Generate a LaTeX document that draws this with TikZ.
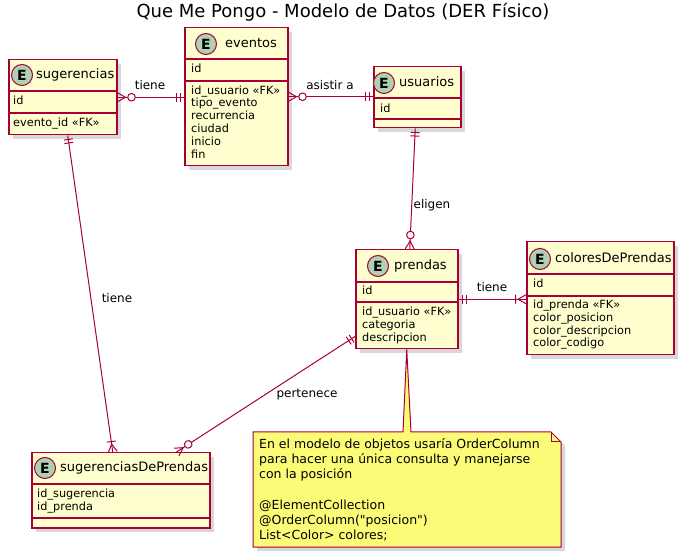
\documentclass[tikz,border=0pt]{standalone}
\usepackage{fontspec}
\setmainfont{DejaVu Sans}
\newfontfamily\notefont{DejaVu Sans}
\usetikzlibrary{positioning,shadows,decorations.markings}

\definecolor{entfill}{HTML}{FEFECE}
\definecolor{erline}{HTML}{A80036}
\definecolor{ecircfill}{HTML}{ADD1B2}
\definecolor{notefill}{HTML}{FBFB77}

% ends of the relations
\newcommand\mkone{\draw[conn] (-4pt,-4.5pt) -- (-4pt,4.5pt) (-7.5pt,-4.5pt) -- (-7.5pt,4.5pt);}
\newcommand\mkzm{\draw[conn] (0pt,4.5pt) -- (-8pt,0pt) -- (0pt,-4.5pt); \draw[conn,fill=white] (-14pt,0pt) circle (3.8pt);}
\newcommand\mkom{\draw[conn] (0pt,4.5pt) -- (-8pt,0pt) -- (0pt,-4.5pt) (-10.5pt,-4.5pt) -- (-10.5pt,4.5pt);}

\tikzset{
	ent/.style={rectangle, draw=erline, fill=entfill, line width=1.5pt, inner sep=0pt, anchor=north west,
		drop shadow={shadow xshift=4pt, shadow yshift=-4pt, fill=black!50, opacity=.3}},
	ecirc/.style={circle, draw=erline, fill=ecircfill, line width=1pt, minimum size=21pt, inner sep=0pt,
		font=\fontsize{14}{14}\selectfont\bfseries},
	etitle/.style={inner sep=0pt, anchor=west, text height=9.5pt, text depth=3pt, font=\fontsize{13}{15}\selectfont},
	field/.style={inner sep=0pt, anchor=west, text height=8pt, text depth=2.5pt, font=\fontsize{11.3}{13}\selectfont},
	sep/.style={draw=erline, line width=1.5pt},
	conn/.style={draw=erline, line width=1pt},
	rel/.style={inner sep=0pt, text height=9pt, text depth=2.5pt, font=\fontsize{12}{14}\selectfont},
	notetext/.style={inner sep=0pt, anchor=west, text height=9.5pt, text depth=3pt, font=\notefont\fontsize{12.5}{15}\selectfont},
	tipend/.style={postaction={decorate,decoration={markings,mark=at position 1 with {#1}}}},
	tipstart/.style={postaction={decorate,decoration={markings,mark=at position 0 with {\begin{scope}[xscale=-1]#1\end{scope}}}}},
}

\begin{document}
\begin{tikzpicture}[x=1pt,y=-1pt]
	\fill[white] (0,0) rectangle (686,553);
	\useasboundingbox (0,0) rectangle (686,553);

	\node[inner sep=0pt, font=\fontsize{18}{20}\selectfont] (title) at (343,12) {Que Me Pongo - Modelo de Datos (DER Físico)};

	% sugerencias
	\node[ent, minimum width=108, minimum height=75] (sug) at (8,59) {};
	\node[ecirc] (sugE) at (22,75) {E};
	\node[etitle] (sugT) at (36,75) {sugerencias};
	\draw[sep] (sug.west |- 0,91) -- (sug.east |- 0,91);
	\node[field] (sugF1) at (13,102) {id};
	\draw[sep] (sug.west |- 0,113) -- (sug.east |- 0,113);
	\node[field] (sugF2) at (13,124) {evento\_id «FK»};

	% eventos
	\node[ent, minimum width=103, minimum height=138] (ev) at (184,27) {};
	\node[ecirc] (evE) at (206,44) {E};
	\node[etitle] (evT) at (225,44) {eventos};
	\draw[sep] (ev.west |- 0,59) -- (ev.east |- 0,59);
	\node[field] (evF0) at (191,70) {id};
	\draw[sep] (ev.west |- 0,81) -- (ev.east |- 0,81);
	\foreach \t [count=\i] in {{id\_usuario «FK»},{tipo\_evento},{recurrencia},{ciudad},{inicio},{fin}}
		\node[field] (evF\i) at (191,78.5+12.8*\i) {\t};

	% usuarios
	\node[ent, minimum width=87, minimum height=61] (us) at (373,66) {};
	\node[ecirc] (usE) at (384,83) {E};
	\node[etitle] (usT) at (399,83) {usuarios};
	\draw[sep] (us.west |- 0,98) -- (us.east |- 0,98);
	\node[field] (usF1) at (380,110) {id};
	\draw[sep] (us.west |- 0,119) -- (us.east |- 0,119);

	% prendas
	\node[ent, minimum width=102, minimum height=99] (pr) at (355,249) {};
	\node[ecirc] (prE) at (378,266) {E};
	\node[etitle] (prT) at (394,266) {prendas};
	\draw[sep] (pr.west |- 0,282) -- (pr.east |- 0,282);
	\node[field] (prF0) at (362,292) {id};
	\draw[sep] (pr.west |- 0,302) -- (pr.east |- 0,302);
	\foreach \t [count=\i] in {{id\_usuario «FK»},{categoria},{descripcion}}
		\node[field] (prF\i) at (362,300+12.8*\i) {\t};

	% coloresDePrendas
	\node[ent, minimum width=147, minimum height=113] (col) at (526,241) {};
	\node[ecirc] (colE) at (540,259) {E};
	\node[etitle] (colT) at (555,259) {coloresDePrendas};
	\draw[sep] (col.west |- 0,274) -- (col.east |- 0,274);
	\node[field] (colF0) at (533,285) {id};
	\draw[sep] (col.west |- 0,296) -- (col.east |- 0,296);
	\foreach \t [count=\i] in {{id\_prenda «FK»},{color\_posicion},{color\_descripcion},{color\_codigo}}
		\node[field] (colF\i) at (533,293+12.8*\i) {\t};

	% sugerenciasDePrendas
	\node[ent, minimum width=178, minimum height=75] (sdp) at (31,452) {};
	\node[ecirc] (sdpE) at (45,468) {E};
	\node[etitle] (sdpT) at (60,468) {sugerenciasDePrendas};
	\draw[sep] (sdp.west |- 0,484) -- (sdp.east |- 0,484);
	\node[field] (sdpF1) at (37,495) {id\_sugerencia};
	\node[field] (sdpF2) at (37,508) {id\_prenda};
	\draw[sep] (sdp.west |- 0,518) -- (sdp.east |- 0,518);

	% note
	\fill[black!50, opacity=.3, xshift=4pt, yshift=-4pt] (253,432) -- (551,432) -- (561,442) -- (561,547) -- (253,547) -- cycle;
	\draw[erline, fill=notefill, line width=1pt] (253,432) -- (403,432) -- (pr.south) -- (411,432) -- (551,432)
		-- (561,442) -- (561,547) -- (253,547) -- cycle;
	\draw[erline, line width=1pt] (551,432) -- (551,442) -- (561,442);
	\foreach \y/\t [count=\i] in {445/{En el modelo de objetos usaría OrderColumn},460/{para hacer una única consulta y manejarse},
		475/{con la posición},506/{@ElementCollection},521/{@OrderColumn("posicion")},536/{List<Color> colores;}}
		\node[notetext] (nt\i) at (259,\y) {\t};

	% relations
	\draw[conn, tipstart=\mkzm, tipend=\mkone] (sug.east) -- (sug.east -| ev.west);
	\node[rel] (r1) at (150,86) {tiene};
	\draw[conn, tipstart=\mkzm, tipend=\mkone] (ev.east) -- (ev.east -| us.west);
	\node[rel] (r2) at (330,86) {asistir a};
	\draw[conn, tipstart=\mkone, tipend=\mkzm] ([xshift=-2pt]us.south) -- ([xshift=3pt]pr.north);
	\node[rel] (r3) at (432,205) {eligen};
	\draw[conn, tipstart=\mkone, tipend=\mkom] (pr.east) -- (pr.east -| col.west);
	\node[rel] (r4) at (492,288) {tiene};
	\draw[conn, tipstart=\mkone, tipend=\mkom] ([xshift=5pt]sug.south) -- ([xshift=-8pt]sdp.north);
	\node[rel] (r5) at (117,299) {tiene};
	\draw[conn, tipstart=\mkone, tipend=\mkzm] ([yshift=13pt]pr.south west) -- ([xshift=-34pt]sdp.north east);
	\node[rel] (r6) at (307,394) {pertenece};
\end{tikzpicture}
\end{document}
